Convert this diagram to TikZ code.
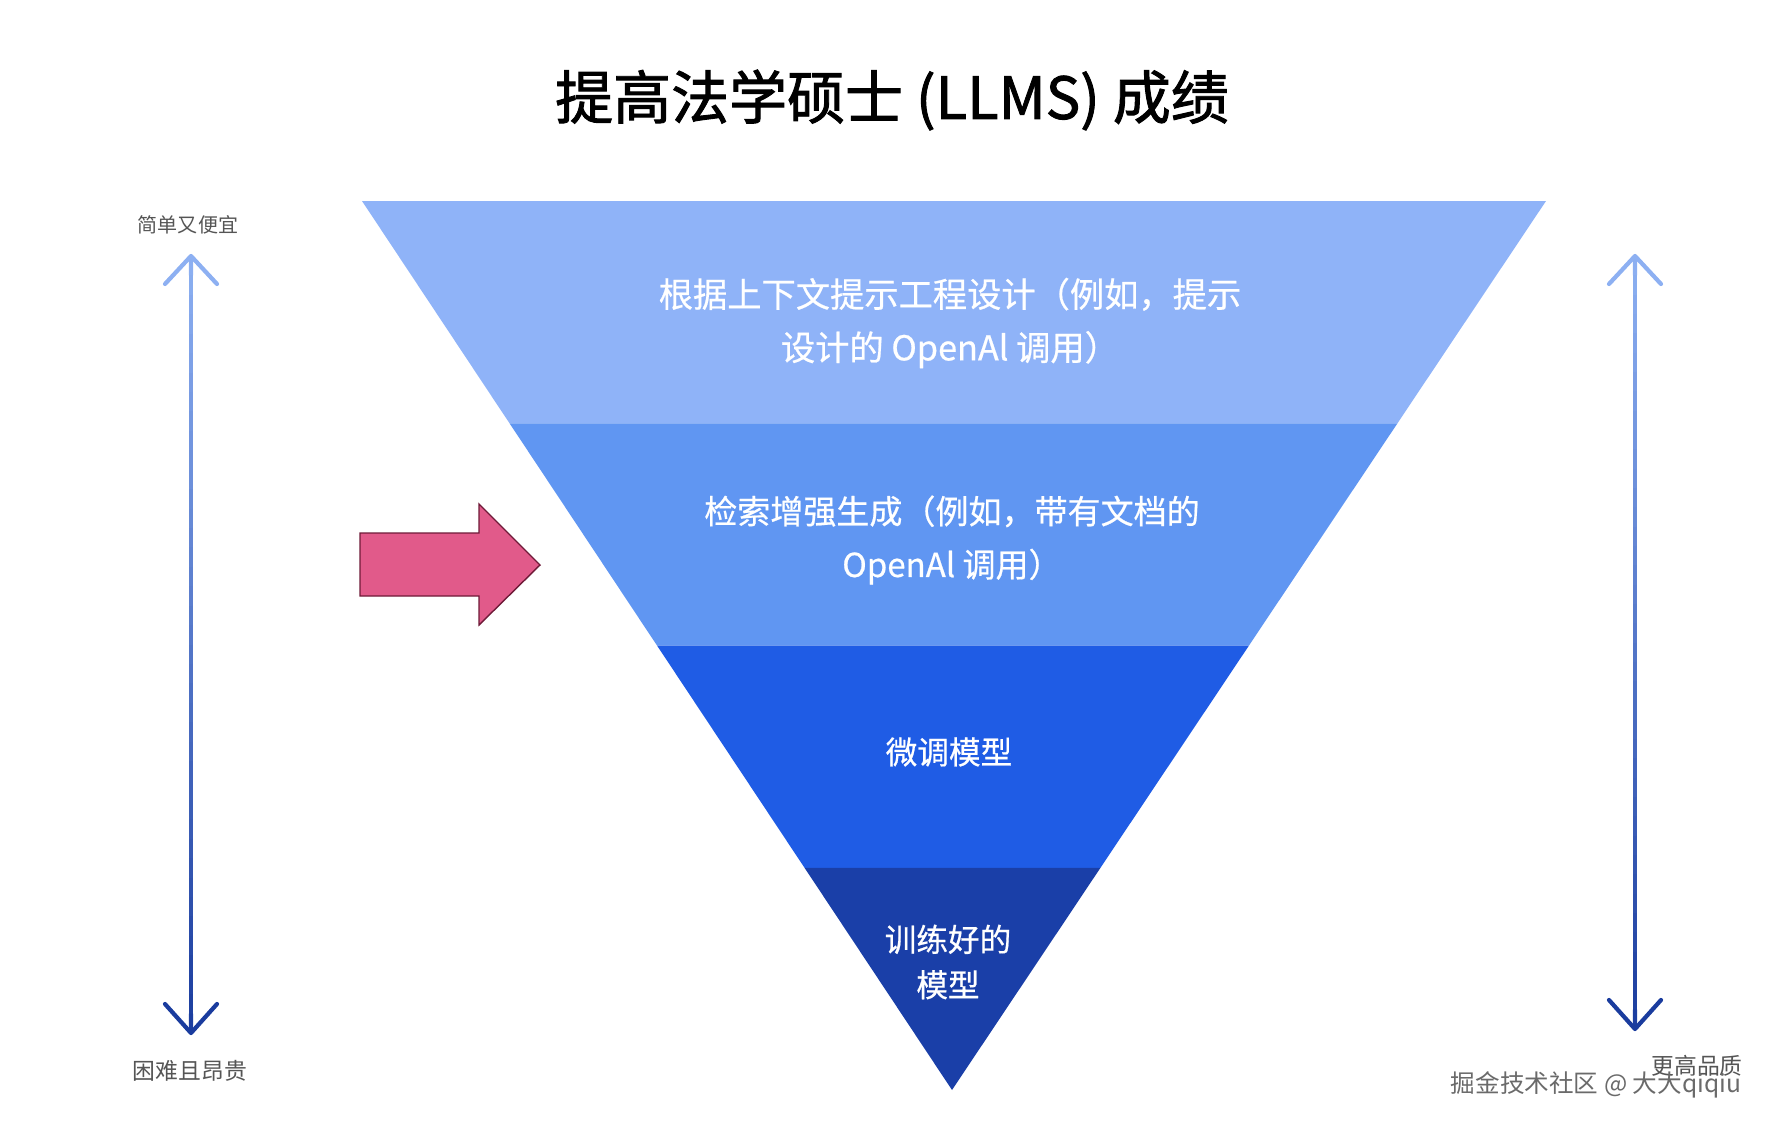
\documentclass[tikz,border=0pt]{standalone}
\usepackage{fontspec}
\setmainfont{Noto Sans CJK SC}
\newfontfamily\headfont[FakeBold=1.6]{Noto Sans CJK SC}
\newfontfamily\bandfont[FakeBold=0.6]{Noto Sans CJK SC}
\usetikzlibrary{calc}

\definecolor{bandA}{HTML}{8FB3F8}
\definecolor{bandB}{HTML}{6096F2}
\definecolor{bandC}{HTML}{1F5CE5}
\definecolor{bandD}{HTML}{1A3FA8}
\definecolor{arrowlight}{HTML}{8DB0F2}
\definecolor{arrowdark}{HTML}{1A3C9E}
\definecolor{pinkfill}{HTML}{E15A8A}
\definecolor{pinkline}{HTML}{6E1A38}
\definecolor{labelgray}{HTML}{555555}
\definecolor{markgray}{HTML}{6A6A6A}

\tikzset{
  bandtext/.style={text=white, align=center, font=\bandfont\fontsize{19.5}{30.3}\selectfont},
  midband/.style={text=white, align=center, font=\bandfont\fontsize{18.8}{30.3}\selectfont},
  smallband/.style={text=white, align=center, font=\bandfont\fontsize{18}{25.8}\selectfont},
  sidetext/.style={text=labelgray, font=\fontsize{11.4}{13}\selectfont},
  bigside/.style={text=labelgray, font=\fontsize{13}{15}\selectfont},
  marktext/.style={text=markgray, font=\fontsize{14}{16}\selectfont},
  headline/.style={line width=2.4pt, line cap=round, line join=round},
}

\begin{document}
\begin{tikzpicture}[x=0.02cm,y=-0.02cm]
\useasboundingbox (0,0) rectangle (1776,1126);

% title
\node (title) at (892,100) {\headfont\fontsize{33}{38}\selectfont 提高法学硕士 (LLMS) 成绩};

% funnel
\coordinate (tl) at (362,201);
\coordinate (tr) at (1546,201);
\coordinate (apex) at (952,1090);
\foreach \k in {1,2,3} {
  \coordinate (l\k) at ($(tl)!\k/4!(apex)$);
  \coordinate (r\k) at ($(tr)!\k/4!(apex)$);
}
\fill[bandA] (tl) -- (tr) -- (r1) -- (l1) -- cycle;
\fill[bandB] (l1) -- (r1) -- (r2) -- (l2) -- cycle;
\fill[bandC] (l2) -- (r2) -- (r3) -- (l3) -- cycle;
\fill[bandD] (l3) -- (r3) -- (apex) -- cycle;

\node[bandtext] (prompt) at (950,323) {根据上下文提示工程设计（例如，提示\\设计的 OpenAl 调用）};
\node[midband] (rag) at (952,540) {检索增强生成（例如，带有文档的\\OpenAl 调用）};
\node[smallband] (tune) at (949,752) {微调模型};
\node[smallband] (train) at (948,962) {训练好的\\模型};

% pink pointer
\draw[fill=pinkfill, draw=pinkline, line width=0.8pt, line join=miter]
  (360,533) -- (479,533) -- (479,504) -- (540,565) -- (479,625) -- (479,596) -- (360,596) -- cycle;

% left scale
\node[sidetext] (cheap) at (188,225) {简单又便宜};
\node[bigside] (hard) at (190,1071) {困难且昂贵};
\coordinate (ltop) at (191,256);
\coordinate (lbot) at (191,1033);
\foreach \i in {1,...,40} {
  \pgfmathtruncatemacro{\p}{(\i-0.5)*2.5}
  \draw[arrowdark!\p!arrowlight, line width=2.4pt]
    ($(ltop)!{(\i-1)/40}!(lbot)$) -- ($(ltop)!{\i/40}!(lbot)$);
}
\draw[headline, arrowlight] ($(ltop)+(-26,28)$) -- (ltop) -- ($(ltop)+(26,28)$);
\draw[headline, arrowdark] ($(lbot)+(-26,-29)$) -- (lbot) -- ($(lbot)+(26,-29)$);

% right scale
\node[bigside] (quality) at (1697,1066) {更高品质};
\coordinate (rtop) at (1635,256);
\coordinate (rbot) at (1635,1029);
\foreach \i in {1,...,40} {
  \pgfmathtruncatemacro{\p}{(\i-0.5)*2.5}
  \draw[arrowdark!\p!arrowlight, line width=2.4pt]
    ($(rtop)!{(\i-1)/40}!(rbot)$) -- ($(rtop)!{\i/40}!(rbot)$);
}
\draw[headline, arrowlight] ($(rtop)+(-26,28)$) -- (rtop) -- ($(rtop)+(26,28)$);
\draw[headline, arrowdark] ($(rbot)+(-26,-29)$) -- (rbot) -- ($(rbot)+(26,-29)$);

% watermark
\node[marktext] (mark) at (1596,1085) {掘金技术社区 @ 大大qiqiu};
\end{tikzpicture}
\end{document}
